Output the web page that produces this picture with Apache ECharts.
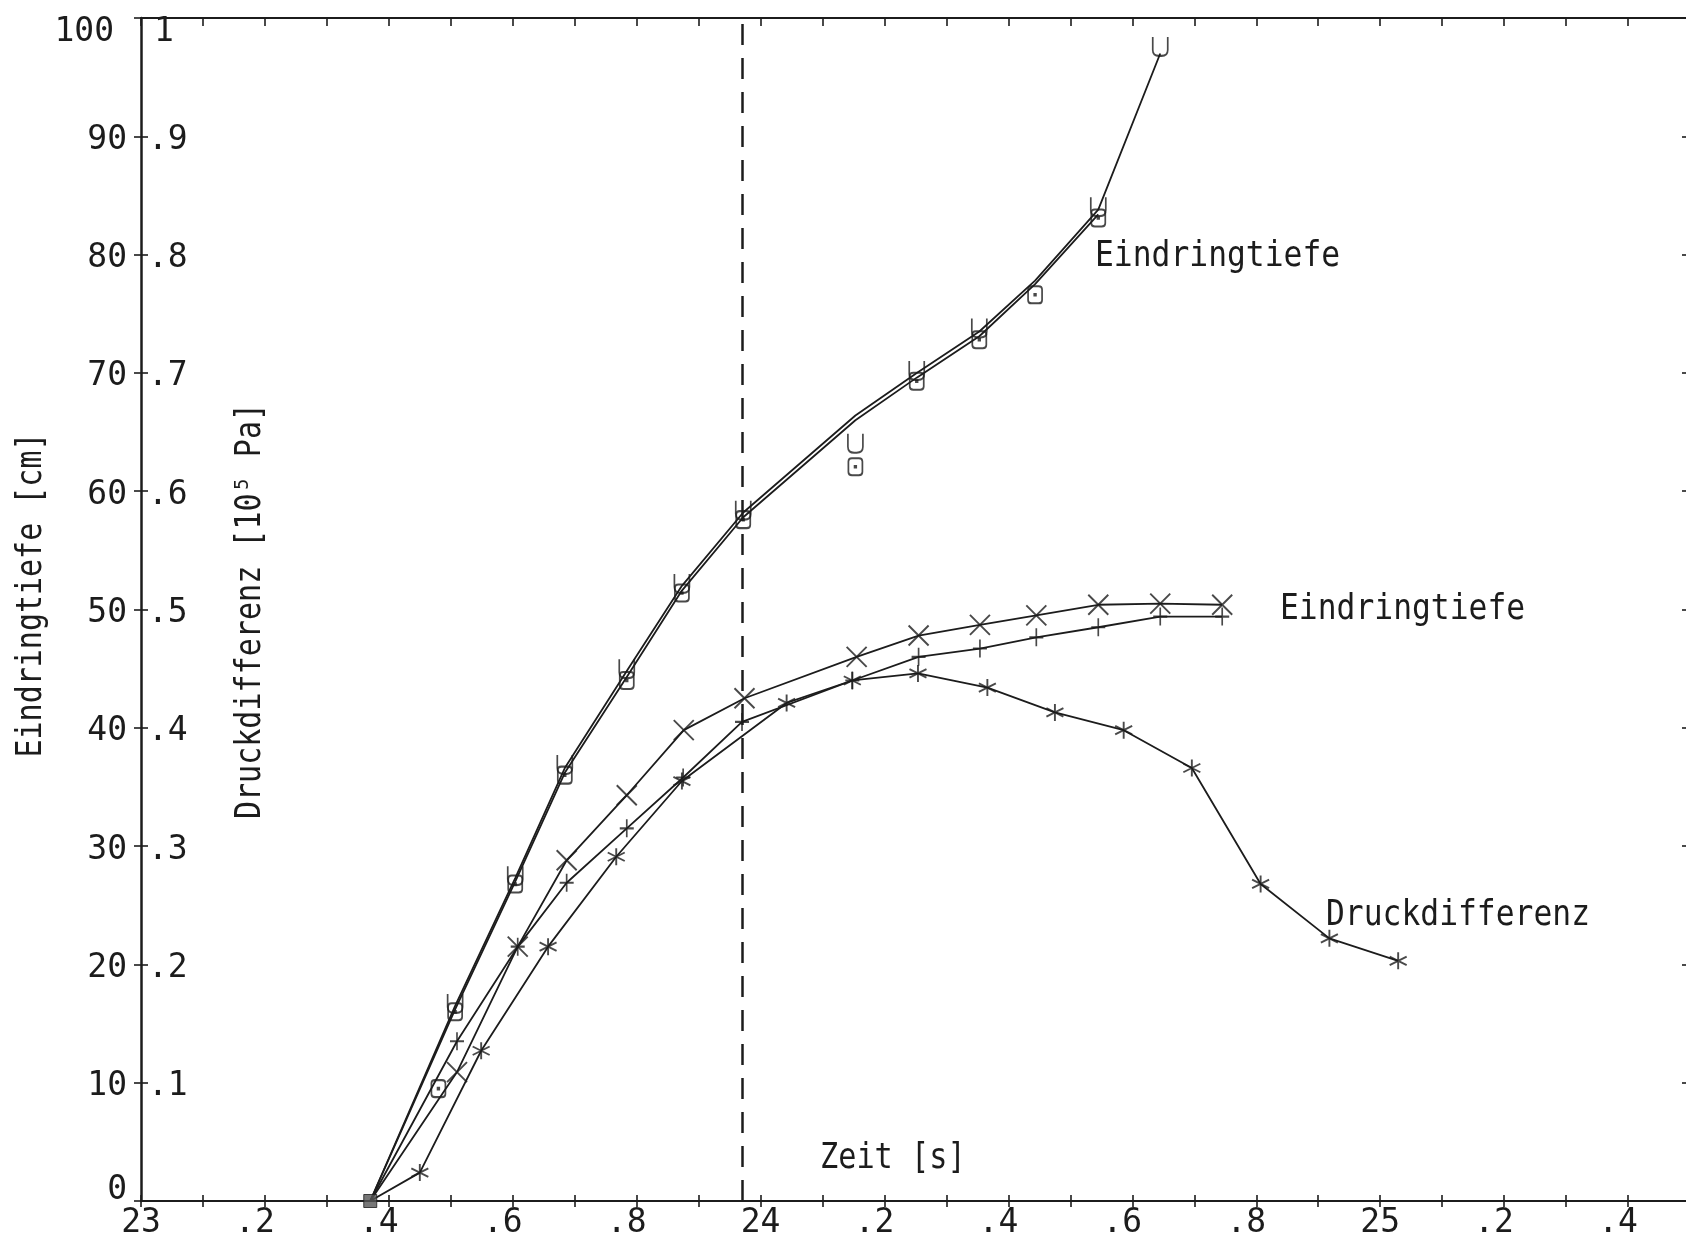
<!DOCTYPE html>
<html>
<head>
<meta charset="utf-8">
<script src="https://cdn.jsdelivr.net/npm/echarts@6/dist/echarts.min.js"></script>
<style>
  html, body { margin: 0; padding: 0; background: #fff; }
  #chart { width: 1686px; height: 1238px; }
</style>
</head>
<body>
<div id="chart"></div>
<script>
// Zeit in s, Eindringtiefe in cm, Druckdifferenz in 10^5 Pa

// gemeinsamer Startpunkt aller Kurven
const startPoint = [23.37, 0];

// Eindringtiefe, Versuch A (Symbol U) – Kurvenverlauf
const depthULine = [[23.37, 0], [23.507, 16.5], [23.604, 27.3], [23.684, 36.6], [23.784, 44.8],
  [23.873, 52.0], [23.972, 58.2], [24.153, 66.4], [24.252, 70.0], [24.353, 73.5],
  [24.443, 77.8], [24.545, 83.8], [24.645, 97.0]];
// Eindringtiefe, Versuch A – Messpunkte
const depthUMarks = [[23.507, 16.7], [23.604, 27.5], [23.684, 36.9], [23.784, 45.0], [23.873, 52.2],
  [23.972, 58.4], [24.153, 64.05], [24.252, 70.2], [24.353, 73.8], [24.545, 84.05], [24.645, 97.6]];

// Eindringtiefe, Versuch B (Symbol O) – Kurvenverlauf
const depthOLine = [[23.37, 0], [23.507, 16.2], [23.604, 27.0], [23.684, 36.2], [23.784, 44.3],
  [23.873, 51.6], [23.972, 57.8], [24.153, 66.0], [24.252, 69.6], [24.353, 73.1],
  [24.443, 77.5], [24.545, 83.4]];
// Eindringtiefe, Versuch B – Messpunkte
const depthOMarks = [[23.480, 9.5], [23.507, 16.0], [23.604, 26.8], [23.684, 36.0], [23.784, 44.0],
  [23.873, 51.4], [23.972, 57.6], [24.153, 62.07], [24.252, 69.3], [24.353, 72.8],
  [24.443, 76.6], [24.545, 83.1]];

// Eindringtiefe, Versuch C (Symbol ×)
const depthCross = [[23.37, 0], [23.510, 10.9], [23.608, 21.5], [23.687, 28.8], [23.784, 34.3],
  [23.876, 39.8], [23.974, 42.5], [24.155, 46.0], [24.255, 47.8], [24.354, 48.7],
  [24.445, 49.5], [24.545, 50.4], [24.645, 50.5], [24.745, 50.4]];

// Eindringtiefe, Versuch D (Symbol +)
const depthPlus = [[23.37, 0], [23.510, 13.5], [23.608, 21.5], [23.687, 26.9], [23.784, 31.5],
  [23.875, 35.8], [23.970, 40.5], [24.148, 44.0], [24.255, 46.0], [24.354, 46.7],
  [24.445, 47.65], [24.545, 48.5], [24.645, 49.4], [24.745, 49.4]];

// Druckdifferenz (Symbol *)
const pressure = [[23.37, 0], [23.450, 0.024], [23.549, 0.127], [23.657, 0.215], [23.767, 0.291],
  [23.873, 0.355], [24.042, 0.421], [24.148, 0.440], [24.254, 0.446], [24.366, 0.434],
  [24.475, 0.413], [24.586, 0.398], [24.696, 0.366], [24.807, 0.268], [24.918, 0.222],
  [25.029, 0.203]];

// Zeitpunkt der gestrichelten Markierung
const markTime = 23.967;

// Beschriftungen
const curveLabels = ['Eindringtiefe', 'Eindringtiefe', 'Druckdifferenz'];
const timeAxisName = 'Zeit [s]';
const depthAxisName = 'Eindringtiefe [cm]';
const pressureAxisName = 'Druckdifferenz [10\u2075 Pa]';

const FONT = 'DejaVu Sans Mono';
const INK = '#1c1c1c';
const LABEL_SIZE = 33;
const CELL = Math.round(LABEL_SIZE * 0.602);

// Plotter-Symbole
const SYM_U = 'path://M0 0 L0 11 Q0 16 5 16 L7 16 Q12 16 12 11 L12 0';
const SYM_O = 'path://M3 0 L9 0 Q12 0 12 3 L12 13 Q12 16 9 16 L3 16 Q0 16 0 13 L0 3 Q0 0 3 0 Z M5.3 7.3 L6.7 7.3 L6.7 8.7 L5.3 8.7 Z';
const SYM_X = 'path://M0 0 L12 12 M12 0 L0 12';
const SYM_PLUS = 'path://M6 0 L6 16 M0 8 L12 8';
const SYM_STAR = 'path://M6 0 L6 12 M0.8 3 L11.2 9 M0.8 9 L11.2 3';

const markerStyle = { color: 'rgba(0,0,0,0)', borderColor: INK, borderWidth: 1.9 };

function curve(name, pts, yIdx, extra) {
  return Object.assign({
    name: name, type: 'line', data: pts, yAxisIndex: yIdx, xAxisIndex: 0,
    showSymbol: false, symbol: 'none', smooth: false,
    lineStyle: { color: INK, width: 1.8 }, itemStyle: { color: INK },
    z: 3
  }, extra || {});
}
function marks(name, pts, yIdx, sym, size) {
  return {
    name: name, type: 'scatter', data: pts, yAxisIndex: yIdx, xAxisIndex: 0,
    symbol: sym, symbolSize: size, itemStyle: markerStyle, z: 4
  };
}

function xLabel(v) {
  const r = Math.round(v * 10);
  if (r % 10 === 0) return '{n|' + (r / 10) + '}';
  if (r % 2 === 0) return '{d|.' + (r % 10) + '}';
  return '';
}
function depthLabel(v) {
  if (v === 100) return '{t|100}';
  if (v === 0) return '{b|0}';
  return '{n|' + v + '}';
}
function pressureLabel(v) {
  const r = Math.round(v * 10);
  if (r === 0) return '';
  if (r === 10) return '{one|1}';
  return '{n|.' + r + '}';
}

const txt = { fontFamily: FONT, fontSize: LABEL_SIZE, color: INK };

const chart = echarts.init(document.getElementById('chart'), null, { renderer: 'canvas' });

const option = {
  backgroundColor: '#ffffff',
  animation: false,
  grid: { left: 141, top: 18, width: 1549, height: 1183, outerBoundsMode: 'none', containLabel: false },
  xAxis: [
    {
      type: 'value', position: 'bottom', min: 23, max: 25.5, interval: 0.1,
      axisLine: { show: true, onZero: false, lineStyle: { color: INK, width: 2 } },
      axisTick: { show: true, inside: false, length: 6, lineStyle: { color: INK, width: 1.6 } },
      axisLabel: {
        show: true, margin: 6, formatter: xLabel, showMinLabel: true, showMaxLabel: true,
        rich: {
          n: Object.assign({}, txt),
          d: Object.assign({ padding: [0, CELL, 0, 0] }, txt)
        }
      },
      splitLine: { show: false }
    },
    {
      type: 'value', position: 'bottom', min: 23, max: 25.5, interval: 0.1,
      axisLine: { show: false, onZero: false },
      axisTick: { show: true, inside: true, length: 6, lineStyle: { color: INK, width: 1.6 } },
      axisLabel: { show: false }, splitLine: { show: false }
    },
    {
      type: 'value', position: 'top', min: 23, max: 25.5, interval: 0.1,
      axisLine: { show: true, onZero: false, lineStyle: { color: INK, width: 2 } },
      axisTick: { show: true, inside: true, length: 8, lineStyle: { color: INK, width: 1.6 } },
      axisLabel: { show: false }, splitLine: { show: false }
    }
  ],
  yAxis: [
    {
      type: 'value', position: 'left', min: 0, max: 100, interval: 10,
      axisLine: { show: true, onZero: false, lineStyle: { color: INK, width: 2.5 } },
      axisTick: { show: true, inside: false, length: 7, lineStyle: { color: INK, width: 1.6 } },
      axisLabel: {
        show: true, margin: 14, formatter: depthLabel,
        rich: {
          n: Object.assign({ padding: [8, 0, 0, 0] }, txt),
          t: Object.assign({ padding: [28, 13, 0, 0] }, txt),
          b: Object.assign({ padding: [0, 0, 22, 0] }, txt)
        }
      },
      splitLine: { show: false }
    },
    {
      type: 'value', position: 'left', min: 0, max: 1, interval: 0.1,
      axisLine: { show: false, onZero: false },
      axisTick: { show: true, inside: true, length: 7, lineStyle: { color: INK, width: 1.6 } },
      axisLabel: {
        show: true, inside: true, margin: 7, formatter: pressureLabel,
        rich: {
          n: Object.assign({ padding: [8, 0, 0, 0] }, txt),
          one: Object.assign({ padding: [28, 0, 0, 6] }, txt)
        }
      },
      splitLine: { show: false }
    },
    {
      type: 'value', position: 'right', min: 0, max: 100, interval: 10,
      axisLine: { show: true, onZero: false, lineStyle: { color: INK, width: 2 } },
      axisTick: { show: true, inside: true, length: 8, lineStyle: { color: INK, width: 1.6 } },
      axisLabel: { show: false }, splitLine: { show: false }
    }
  ],
  series: [
    curve('Eindringtiefe A', depthULine, 0),
    curve('Eindringtiefe B', depthOLine, 0),
    curve('Eindringtiefe C', depthCross, 0, {
      markLine: {
        silent: true, symbol: ['none', 'none'], label: { show: false },
        lineStyle: { color: INK, width: 2.5, type: [21, 13] },
        emphasis: { disabled: true },
        data: [{ xAxis: markTime }]
      }
    }),
    curve('Eindringtiefe D', depthPlus, 0),
    curve('Druckdifferenz', pressure, 1),
    marks('Eindringtiefe A', depthUMarks, 0, SYM_U, [15, 19]),
    marks('Eindringtiefe B', depthOMarks, 0, SYM_O, [14, 17]),
    marks('Eindringtiefe C', depthCross.slice(1), 0, SYM_X, [20, 20]),
    marks('Eindringtiefe D', depthPlus.slice(1), 0, SYM_PLUS, [14, 18]),
    marks('Druckdifferenz', pressure.slice(1), 1, SYM_STAR, [17, 17]),
    {
      name: 'Start', type: 'scatter', data: [startPoint], yAxisIndex: 0, xAxisIndex: 0,
      symbol: 'rect', symbolSize: 13,
      itemStyle: { color: '#555', borderColor: INK, borderWidth: 1 }, z: 6
    }
  ],
  graphic: [
    { type: 'text', x: 1095, y: 257, scaleX: 0.87,
      style: { text: curveLabels[0], fontFamily: FONT, fontSize: 36, fill: INK, align: 'left', verticalAlign: 'middle' } },
    { type: 'text', x: 1280, y: 610, scaleX: 0.87,
      style: { text: curveLabels[1], fontFamily: FONT, fontSize: 36, fill: INK, align: 'left', verticalAlign: 'middle' } },
    { type: 'text', x: 1326, y: 916, scaleX: 0.87,
      style: { text: curveLabels[2], fontFamily: FONT, fontSize: 36, fill: INK, align: 'left', verticalAlign: 'middle' } },
    { type: 'text', x: 820, y: 1159, scaleX: 0.84,
      style: { text: timeAxisName, fontFamily: FONT, fontSize: 36, fill: INK, align: 'left', verticalAlign: 'middle' } },
    { type: 'text', x: 32, y: 595, rotation: Math.PI / 2, scaleX: 0.833,
      style: { text: depthAxisName, fontFamily: FONT, fontSize: 36, fill: INK, align: 'center', verticalAlign: 'middle' } },
    { type: 'text', x: 251, y: 611, rotation: Math.PI / 2, scaleX: 0.835,
      style: { text: pressureAxisName, fontFamily: FONT, fontSize: 36, fill: INK, align: 'center', verticalAlign: 'middle' } }
  ]
};

chart.setOption(option);
</script>
</body>
</html>
